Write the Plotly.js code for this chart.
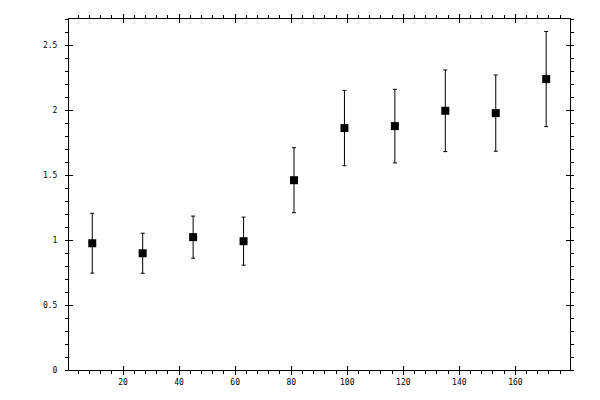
<!DOCTYPE html>
<html>
<head>
<meta charset="utf-8">
<script src="https://cdn.plot.ly/plotly-3.0.1.min.js"></script>
<style>
  html, body { margin: 0; padding: 0; background: #fff; }
  #chart { width: 600px; height: 400px; }
</style>
</head>
<body>
<div id="chart"></div>
<script>
// bin centres and measured values
const xBins = [9, 27, 45, 63, 81, 99, 117, 135, 153, 171];
const yVals = [0.975, 0.898, 1.022, 0.991, 1.46, 1.861, 1.876, 1.994, 1.976, 2.238];
const yErr = [0.23, 0.154, 0.162, 0.185, 0.25, 0.29, 0.283, 0.314, 0.293, 0.366];

const xRange = [0.7, 179.5];
const yRange = [0, 2.7];

let points = {
    x: xBins,
    y: yVals,
    mode: "markers",
    type: "scatter",
    marker: { symbol: "square", size: 8, color: "black" },
    error_y: {
        type: "data",
        array: yErr,
        visible: true,
        color: "black",
        thickness: 1,
        width: 2
    },
    showlegend: false,
    hoverinfo: "none"
};

// empty trace so the overlay axes (inner half of major ticks) get drawn
let dummy = { x: [], y: [], xaxis: "x2", yaxis: "y2", type: "scatter", showlegend: false };

const tickFont = { family: "DejaVu Sans Mono, monospace", size: 8, color: "black" };

let layout = {
    width: 600, height: 400,
    margin: { l: 69, r: 30, t: 19, b: 30 },
    paper_bgcolor: "white",
    plot_bgcolor: "white",
    showlegend: false,
    xaxis: {
        range: xRange,
        showgrid: false, zeroline: false,
        showline: true, linecolor: "black", linewidth: 1, mirror: "allticks",
        ticks: "outside", ticklen: 4, tickwidth: 1, tickcolor: "black",
        tick0: 0, dtick: 20,
        minor: { ticks: "outside", ticklen: 3, tickwidth: 1, tickcolor: "black", dtick: 4, tick0: 0, showgrid: false },
        tickfont: tickFont
    },
    yaxis: {
        range: yRange,
        showgrid: false, zeroline: false,
        showline: true, linecolor: "black", linewidth: 1, mirror: "allticks",
        ticks: "outside", ticklen: 3, tickwidth: 1, tickcolor: "black",
        tick0: 0, dtick: 0.5,
        minor: { ticks: "outside", ticklen: 3, tickwidth: 1, tickcolor: "black", dtick: 0.1, tick0: 0, showgrid: false },
        tickfont: tickFont,
        ticklabelstandoff: 6
    },
    xaxis2: {
        overlaying: "x", matches: "x", range: xRange,
        showgrid: false, zeroline: false, showline: false,
        ticks: "inside", ticklen: 4, tickwidth: 1, tickcolor: "black", mirror: "ticks",
        tick0: 0, dtick: 20, showticklabels: false
    },
    yaxis2: {
        overlaying: "y", matches: "y", range: yRange,
        showgrid: false, zeroline: false, showline: false,
        ticks: "inside", ticklen: 4, tickwidth: 1, tickcolor: "black", mirror: "ticks",
        tick0: 0, dtick: 0.5, showticklabels: false
    }
};

Plotly.newPlot("chart", [points, dummy], layout, { staticPlot: true });
</script>
</body>
</html>
